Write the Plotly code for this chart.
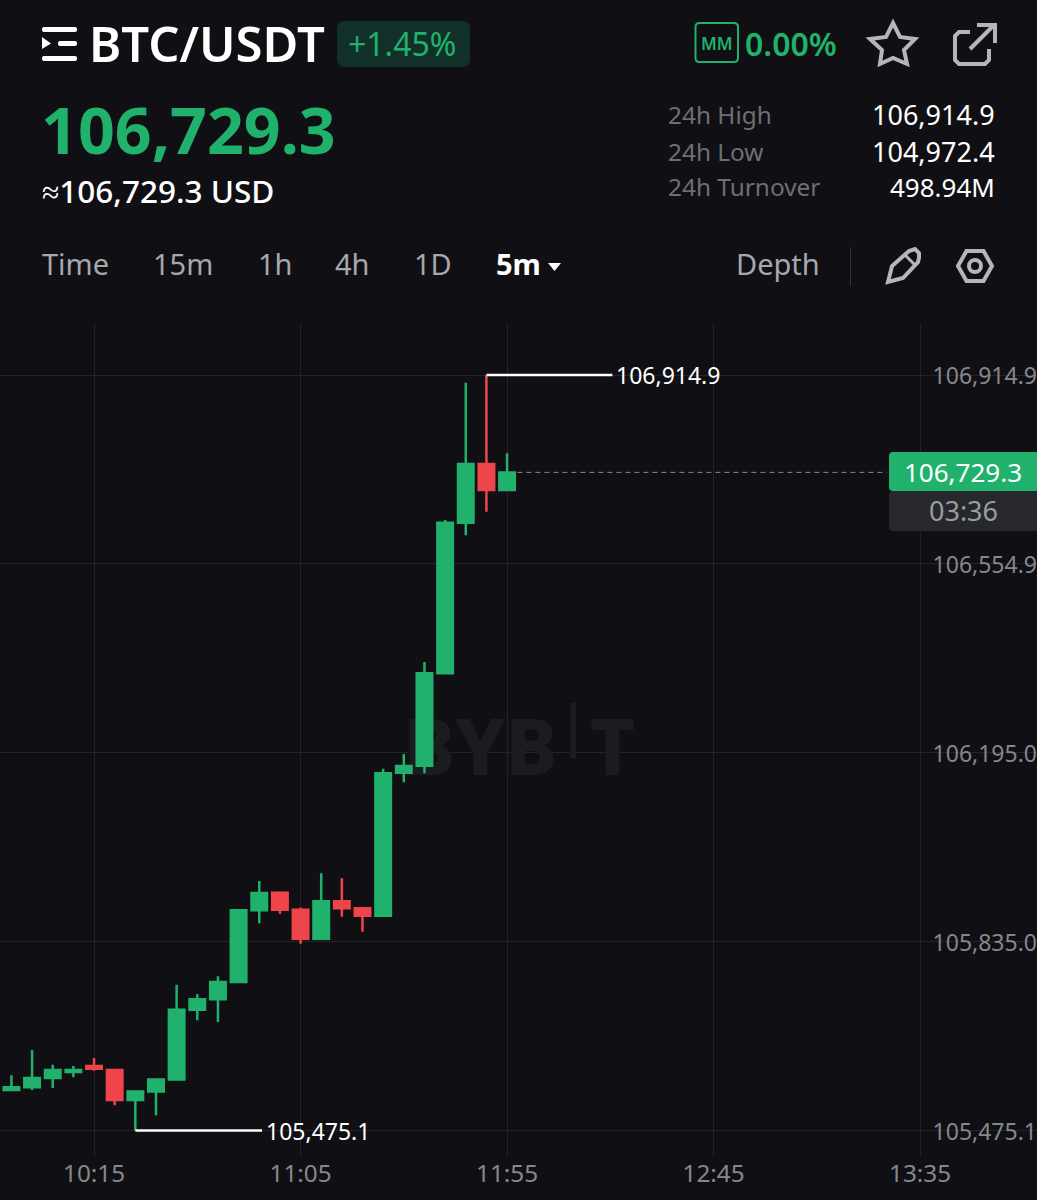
import plotly.graph_objects as go

# candles
times = ['09:55', '10:00', '10:05', '10:10', '10:15', '10:20', '10:25', '10:30', '10:35', '10:40',
         '10:45', '10:50', '10:55', '11:00', '11:05', '11:10', '11:15', '11:20', '11:25', '11:30',
         '11:35', '11:40', '11:45', '11:50', '11:55']
opens = [105552.3, 105557.4, 105575.2, 105586.6, 105598.0, 105590.4, 105533.2, 105549.4, 105572.3, 105705.3,
         105725.1, 105758.1, 105894.7, 105928.3, 105895.9, 105840.6, 105911.9, 105898.6, 105884.4, 106157.0,
         106170.3, 106346.4, 106633.4, 106745.3, 106695.7]
highs = [105580.3, 105628.5, 105600.5, 105598.0, 105613.3, 105590.4, 105550.4, 105572.3, 105753.0, 105734.7,
         105769.0, 105897.2, 105950.6, 105930.9, 105899.7, 105965.2, 105955.7, 105898.6, 106164.6, 106192.6,
         106367.9, 106638.5, 106900.2, 106914.9, 106765.6]
lows = [105552.3, 105552.3, 105556.1, 105576.5, 105589.1, 105523.1, 105475.1, 105504.1, 105572.3, 105685.1,
        105681.9, 105758.1, 105870.0, 105888.3, 105831.1, 105840.6, 105882.6, 105854.0, 105884.4, 106138.7,
        106155.8, 106346.4, 106609.4, 106654.3, 106695.7]
closes = [105557.4, 105575.2, 105590.4, 105590.4, 105592.9, 105533.2, 105549.4, 105572.3, 105705.3, 105725.1,
          105758.1, 105894.7, 105927.7, 105895.9, 105840.6, 105911.9, 105898.6, 105884.4, 106155.8, 106169.7,
          106346.4, 106633.4, 106745.3, 106695.7, 106729.3]

price_ticks = [105475.1, 105835.0, 106195.0, 106554.9, 106914.9]
price_labels = ['105,475.1', '105,835.0', '106,195.0', '106,554.9', '106,914.9']
time_ticks = ['10:15', '11:05', '11:55', '12:45', '13:35']
high_price = 106914.9
low_price = 105475.1
last_price = 106729.3

DAY = '2025-06-09 '
W, H = 1037, 1200
BG = '#101014'
GREEN = '#20B26C'
RED = '#EF454A'
ICON = '#B4B6BB'
FONT = 'Noto Sans'


def px(x):
    return x / W


def py(y):
    return 1 - y / H


def stamp(hhmm):
    return DAY + hhmm


def path(points, close=False):
    d = 'M' + ' L'.join('%.5f,%.5f' % (px(x), py(y)) for x, y in points)
    return d + (' Z' if close else '')


def rounded(x0, y0, x1, y1, r):
    def p(x, y):
        return '%.5f,%.5f' % (px(x), py(y))
    return ('M' + p(x0 + r, y0) + ' L' + p(x1 - r, y0) + ' Q' + p(x1, y0) + ' ' + p(x1, y0 + r)
            + ' L' + p(x1, y1 - r) + ' Q' + p(x1, y1) + ' ' + p(x1 - r, y1)
            + ' L' + p(x0 + r, y1) + ' Q' + p(x0, y1) + ' ' + p(x0, y1 - r)
            + ' L' + p(x0, y0 + r) + ' Q' + p(x0, y0) + ' ' + p(x0 + r, y0) + ' Z')


def label(x, y, text, size, color, weight=400, anchor='left'):
    return dict(x=px(x), y=py(y), xref='paper', yref='paper', text=text, showarrow=False, xanchor=anchor,
                yanchor='middle', borderpad=0, font=dict(family=FONT, size=size, color=color, weight=weight))


def callout(when, price):
    return dict(x=stamp(when), y=price, xref='x', yref='y', text=format(price, ',.1f'), showarrow=False,
                xanchor='left', yanchor='middle', xshift=3, yshift=0, borderpad=0,
                font=dict(family=FONT, size=23, color='#FFFFFF'))


def shape_path(d, fill='rgba(0,0,0,0)', line=None, width=0):
    return dict(type='path', path=d, xref='paper', yref='paper', fillcolor=fill,
                line=dict(color=line or 'rgba(0,0,0,0)', width=width))


traces = []

# watermark sits on the base axis so the candles paint over it
traces.append(go.Scatter(x=[stamp('11:29:48'), stamp('12:15')], y=[106190, 106190], yaxis='y2', mode='text',
                         text=['BYB', 'T'], textposition='middle right', hoverinfo='skip', showlegend=False,
                         textfont=dict(family=FONT, size=78, color='#1B1C20', weight=800)))
traces.append(go.Scatter(x=[stamp('12:11'), stamp('12:11')], y=[106291, 106185], yaxis='y2', mode='lines',
                         line=dict(color='#1B1C20', width=6), hoverinfo='skip', showlegend=False))

traces.append(go.Candlestick(x=[stamp(t) for t in times], open=opens, high=highs, low=lows, close=closes,
                             increasing=dict(line=dict(color=GREEN, width=2.5), fillcolor=GREEN),
                             decreasing=dict(line=dict(color=RED, width=2.5), fillcolor=RED),
                             whiskerwidth=0, showlegend=False))

# last price line
traces.append(go.Scatter(x=[stamp('11:57:30'), stamp('13:27')], y=[last_price, last_price], mode='lines',
                         line=dict(color='#85878C', width=1, dash='5px,4px'), hoverinfo='skip', showlegend=False))

# high and low callouts
traces.append(go.Scatter(x=[stamp('11:50'), stamp('12:20:30')], y=[high_price, high_price], mode='lines',
                         line=dict(color='#FFFFFF', width=2.5), hoverinfo='skip', showlegend=False))
traces.append(go.Scatter(x=[stamp('10:25'), stamp('10:55:40')], y=[low_price, low_price], mode='lines',
                         line=dict(color='#FFFFFF', width=2.5), hoverinfo='skip', showlegend=False))

shapes = [
    # menu icon
    shape_path(rounded(42, 27, 77, 32, 2), fill='#FFFFFF'),
    shape_path(rounded(58, 41, 77, 46, 2), fill='#FFFFFF'),
    shape_path(rounded(42, 56, 77, 61, 2), fill='#FFFFFF'),
    shape_path(path([(42, 37), (51, 43.5), (42, 49)], close=True), fill='#FFFFFF'),
    # change badge
    shape_path(rounded(337, 21, 470, 67, 8), fill='#12302A'),
    # MM box
    shape_path(rounded(695.5, 23, 738, 62, 4), line=GREEN, width=2),
    # star
    shape_path(path([(893, 23), (900, 37), (915, 39), (904, 50), (907, 64), (893, 58), (880, 64), (882, 50),
                     (870, 39), (886, 37)], close=True), line=ICON, width=4),
    # external link
    shape_path(path([(970, 32), (959, 32), (955, 36), (955, 60), (959, 64), (985, 64), (989, 60), (989, 49)]),
               line=ICON, width=4),
    shape_path(path([(970, 49), (994, 25)]), line=ICON, width=4),
    shape_path(path([(977, 25), (995, 25), (995, 43)]), line=ICON, width=4),
    # timeframe arrow and divider
    shape_path(path([(548, 263), (561, 263), (554.5, 271)], close=True), fill='#FFFFFF'),
    shape_path(path([(850.5, 247), (850.5, 286)]), line='#34363A', width=1),
    # pencil
    shape_path(path([(888, 282), (892, 266), (909, 251), (915, 249), (919, 253), (919, 258), (918, 262),
                     (903, 278)], close=True), line=ICON, width=4),
    shape_path(path([(905, 255), (915, 265)]), line=ICON, width=3),
    # settings hexagon
    shape_path(path([(958, 266), (966.5, 251), (983.5, 251), (992, 266), (983.5, 281), (966.5, 281)], close=True),
               line=ICON, width=4),
    dict(type='circle', xref='paper', yref='paper', x0=px(969), x1=px(981), y0=py(272), y1=py(260),
         line=dict(color=ICON, width=4)),
    # price tag
    shape_path(rounded(889, 452, 1045, 491, 4), fill=GREEN),
    shape_path(rounded(889, 491, 1045, 531, 4), fill='#26282C'),
]

annotations = [
    label(88, 43, 'BTC/USDT', 49, '#FFFFFF', 600),
    label(347, 44, '+1.45%', 32, GREEN),
    label(716.5, 44, 'MM', 17, GREEN, 600, 'center'),
    label(744, 44, '0.00%', 32, GREEN, 600),
    label(40, 129, '106,729.3', 64.5, GREEN, 700),
    label(41, 190, '≈106,729.3 USD', 31.5, '#FFFFFF', 500),
    label(667, 115, '24h High', 24.4, '#6D6F75'),
    label(667, 151, '24h Low', 24.4, '#6D6F75'),
    label(667, 187, '24h Turnover', 24.4, '#6D6F75'),
    label(996, 115, '106,914.9', 27, '#FFFFFF', 400, 'right'),
    label(996, 151, '104,972.4', 27, '#FFFFFF', 400, 'right'),
    label(996, 187, '498.94M', 26, '#FFFFFF', 400, 'right'),
    label(41, 263, 'Time', 29, '#A6A8AD'),
    label(152, 263, '15m', 29, '#A6A8AD'),
    label(257, 263, '1h', 29, '#A6A8AD'),
    label(334, 263, '4h', 29, '#A6A8AD'),
    label(413, 263, '1D', 29, '#A6A8AD'),
    label(495, 263, '5m', 29, '#FFFFFF', 700),
    label(735, 263, 'Depth', 29, '#A6A8AD'),
    label(963, 472, '106,729.3', 26, '#FFFFFF', 400, 'center'),
    label(963, 511, '03:36', 27, '#9A9CA1', 400, 'center'),
    callout('12:20:30', high_price),
    callout('10:55:40', low_price),
]

plot_domain = [py(1156.5), py(323)]
price_range = [105425.6, 107014.0]

layout = go.Layout(
    width=W, height=H, autosize=False,
    margin=dict(l=0, r=0, t=0, b=0, pad=0),
    paper_bgcolor=BG, plot_bgcolor=BG,
    boxgap=0.25, boxgroupgap=0,
    showlegend=False,
    font=dict(family=FONT),
    xaxis=dict(
        type='date', range=[stamp('09:52:14'), stamp('14:03:18')], domain=[0, 1],
        rangeslider=dict(visible=False),
        tickmode='array', tickvals=[stamp(t) for t in time_ticks], ticktext=time_ticks,
        showgrid=True, gridcolor='#232428', gridwidth=1, zeroline=False, showline=False, ticks='',
        tickfont=dict(family=FONT, size=24.3, color='#85878C'), anchor='y2'
    ),
    yaxis=dict(
        overlaying='y2', side='right', range=price_range, anchor='x',
        tickmode='array', tickvals=price_ticks, ticktext=price_labels,
        ticklabelposition='inside', ticklabelstandoff=-3, ticklabelshift=1,
        showgrid=True, gridcolor='#232428', gridwidth=1,
        zeroline=False, showline=False, ticks='',
        tickfont=dict(family=FONT, size=23, color='#85878C')
    ),
    yaxis2=dict(domain=plot_domain, range=price_range, visible=False, anchor='x'),
    shapes=shapes,
    annotations=annotations,
)

fig = go.Figure(data=traces, layout=layout)
fig.write_html("out.html", config=dict(displayModeBar=False), post_script="document.body.style.margin='0';")
